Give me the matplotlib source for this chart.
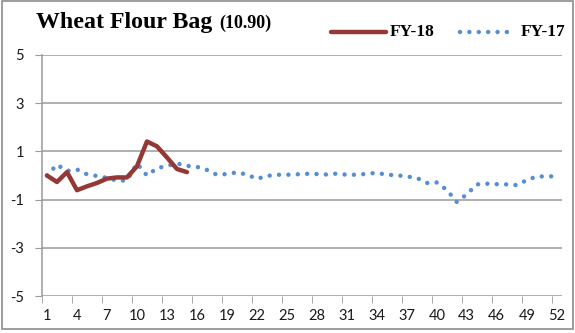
import numpy as np
import matplotlib
matplotlib.use("Agg")
import matplotlib.pyplot as plt
from matplotlib.lines import Line2D
from matplotlib.patches import Rectangle

plt.rcParams["axes.unicode_minus"] = False

# weekly values
weeks = np.arange(1, 53)
fy18 = [0.0, -0.27, 0.14, -0.61, -0.45, -0.31, -0.13, -0.08, -0.08, 0.38,
        1.41, 1.21, 0.75, 0.27, 0.14]
fy17 = [0.0, 0.45, 0.19, 0.25, 0.05, -0.02, -0.1, -0.21, -0.21, 0.5,
        0.0, 0.3, 0.4, 0.5, 0.4, 0.36, 0.23, 0.03, 0.06, 0.13,
        0.04, -0.14, -0.02, 0.03, 0.03, 0.05, 0.07, 0.06, 0.04, 0.08,
        0.03, 0.03, 0.07, 0.11, 0.03, 0.01, -0.04, -0.1, -0.31, -0.29,
        -0.6, -1.1, -0.78, -0.37, -0.34, -0.36, -0.37, -0.4, -0.19, -0.04,
        -0.04, -0.03]
yticks = [-5, -3, -1, 1, 3, 5]
xlabels = list(range(1, 53, 3))

red = "#953735"
blue = "#558ED5"
grid = "#9a9a9a"

fig = plt.figure(figsize=(5.75, 3.33), dpi=100)
ax = fig.add_axes([0.073, 0.111, 0.904, 0.724])

for y in yticks:
    ax.axhline(y, color=grid, lw=1.1, zorder=1)

ax.plot(weeks, fy17, color=blue, lw=3.2, linestyle=(0, (0.01, 2.1)),
        dash_capstyle="round", zorder=3)
ax.plot(weeks[:len(fy18)], fy18, color=red, lw=3.2, solid_capstyle="round",
        solid_joinstyle="round", zorder=4)

ax.set_xlim(0.5, 52.5)
ax.set_ylim(-5, 5)
ax.set_yticks(yticks)
ax.set_xticks(xlabels)
ax.set_xticklabels([str(v) for v in xlabels])
ax.set_xticks(np.arange(0.5, 53, 3), minor=True)
ax.tick_params(axis="x", which="major", length=0, pad=9)
ax.tick_params(axis="x", which="minor", length=5, color=grid, direction="out")
ax.tick_params(axis="y", length=5, color=grid, direction="out", pad=8)
for lab in ax.get_xticklabels() + ax.get_yticklabels():
    lab.set_family("Lato")
    lab.set_fontsize(10.5)
    lab.set_color("#1a1a1a")

for s in ["top", "right", "bottom"]:
    ax.spines[s].set_visible(False)
ax.spines["left"].set_color(grid)
ax.spines["left"].set_linewidth(1.1)

# title
fig.text(0.063, 0.915, "Wheat Flour Bag", family="Liberation Serif",
         weight="bold", fontsize=17.2, va="baseline")
fig.text(0.382, 0.915, "(10.90)", family="Liberation Serif",
         weight="bold", fontsize=13, va="baseline")

# legend
ly = 0.905
fig.add_artist(Line2D([0.575, 0.672], [ly, ly], color=red, lw=3.2,
                      solid_capstyle="round", transform=fig.transFigure))
fig.text(0.678, ly, "FY-18", family="Liberation Serif", weight="bold",
         fontsize=12.5, va="center")
fig.add_artist(Line2D([0.80, 0.888], [ly, ly], color=blue, lw=3.2,
                      linestyle=(0, (0.01, 2.1)), dash_capstyle="round",
                      transform=fig.transFigure))
fig.text(0.905, ly, "FY-17", family="Liberation Serif", weight="bold",
         fontsize=12.5, va="center")

# chart frame
fig.add_artist(Rectangle((0.003, 0.012), 0.994, 0.985, fill=False,
                         edgecolor="#8c8c8c", lw=1.2, transform=fig.transFigure))

fig.savefig("out.png", dpi=100)
